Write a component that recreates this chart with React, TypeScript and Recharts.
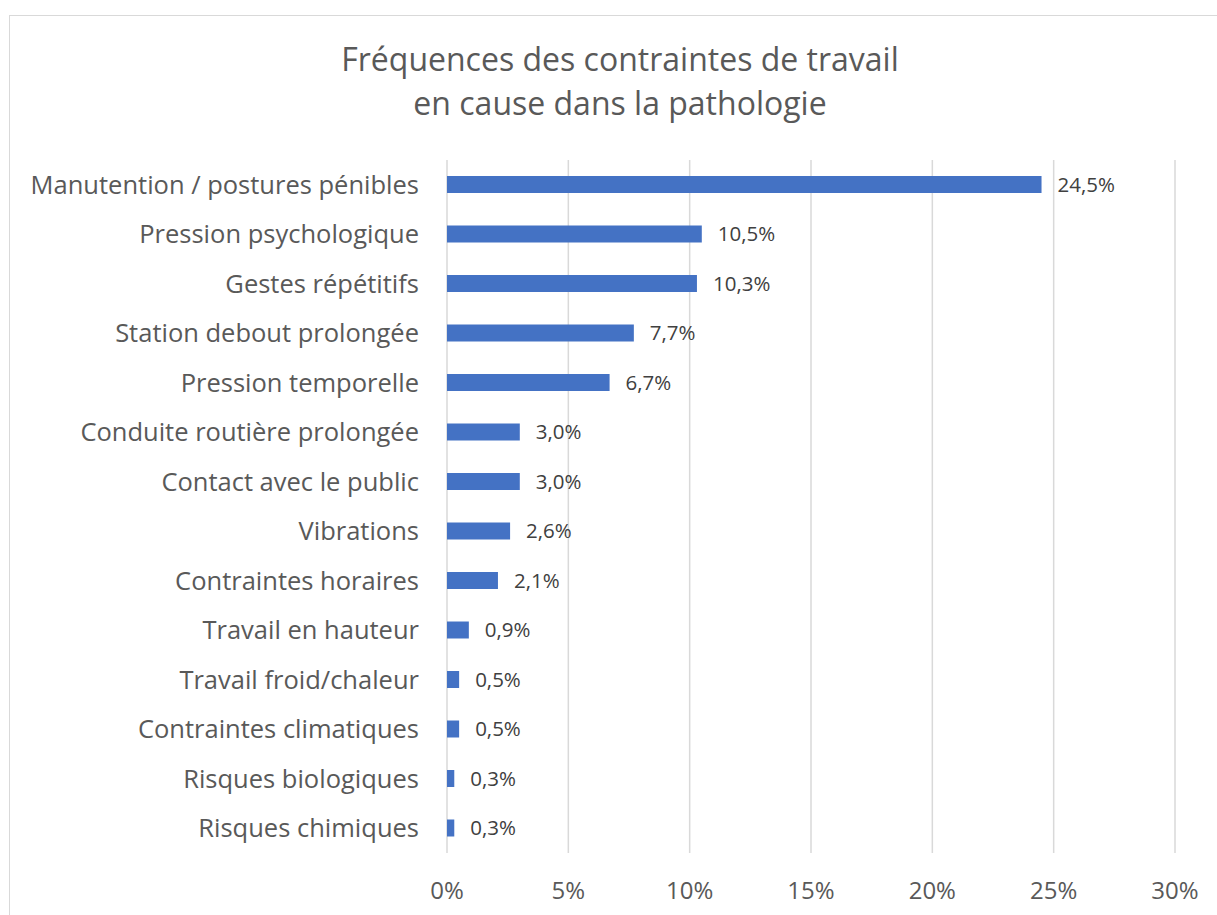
import React from "react";
import { BarChart, Bar, XAxis, YAxis, CartesianGrid, LabelList } from "recharts";

const categories = [
  "Manutention / postures pénibles",
  "Pression psychologique",
  "Gestes répétitifs",
  "Station debout prolongée",
  "Pression temporelle",
  "Conduite routière prolongée",
  "Contact avec le public",
  "Vibrations",
  "Contraintes horaires",
  "Travail en hauteur",
  "Travail froid/chaleur",
  "Contraintes climatiques",
  "Risques biologiques",
  "Risques chimiques",
];
const values = [24.5, 10.5, 10.3, 7.7, 6.7, 3.0, 3.0, 2.6, 2.1, 0.9, 0.5, 0.5, 0.3, 0.3];
const xTicks = [0, 5, 10, 15, 20, 25, 30];
const titleLines = ["Fréquences des contraintes de travail", "en cause dans la pathologie"];

const data = categories.map((name, i) => ({ name, value: values[i] }));

const FONT = "'Open Sans', sans-serif";

export default function App() {
  return (
    <div style={{ position: "fixed", left: 0, top: 0, width: 1217, height: 915, overflow: "hidden", background: "#fff", fontFamily: FONT }}>
      <div style={{ position: "absolute", left: 9, top: 15, width: 1400, height: 1000, border: "1.5px solid #d9d9d9", boxSizing: "border-box" }} />
      <div style={{ position: "absolute", left: 0, top: 37, width: 1240, textAlign: "center", color: "#595959", fontSize: 32, lineHeight: "44px" }}>
        {titleLines.map((t) => (
          <div key={t}>{t}</div>
        ))}
      </div>
      <div style={{ position: "absolute", left: 0, top: 0 }}>
        <BarChart
          width={1217}
          height={915}
          data={data}
          layout="vertical"
          margin={{ top: 160, right: 42, bottom: 12, left: 0 }}
        >
          <CartesianGrid horizontal={false} stroke="#d9d9d9" strokeWidth={1.5} />
          <XAxis
            type="number"
            domain={[0, 30]}
            ticks={xTicks}
            tickFormatter={(v) => `${v}%`}
            axisLine={false}
            tickLine={false}
            tickSize={0}
            tickMargin={29}
            height={50}
            tick={{ fill: "#595959", fontSize: 24, fontFamily: FONT }}
          />
          <YAxis
            type="category"
            dataKey="name"
            width={447}
            axisLine={false}
            tickLine={false}
            tickSize={0}
            tickMargin={28}
            tick={{ fill: "#595959", fontSize: 25.5, fontFamily: FONT }}
          />
          <Bar dataKey="value" fill="#4472C4" barSize={17} isAnimationActive={false}>
            <LabelList
              dataKey="value"
              position="right"
              offset={16}
              formatter={(v: number) => `${v.toFixed(1).replace(".", ",")}%`}
              style={{ fill: "#404040", fontSize: 20.5, fontFamily: FONT }}
            />
          </Bar>
        </BarChart>
      </div>
    </div>
  );
}
